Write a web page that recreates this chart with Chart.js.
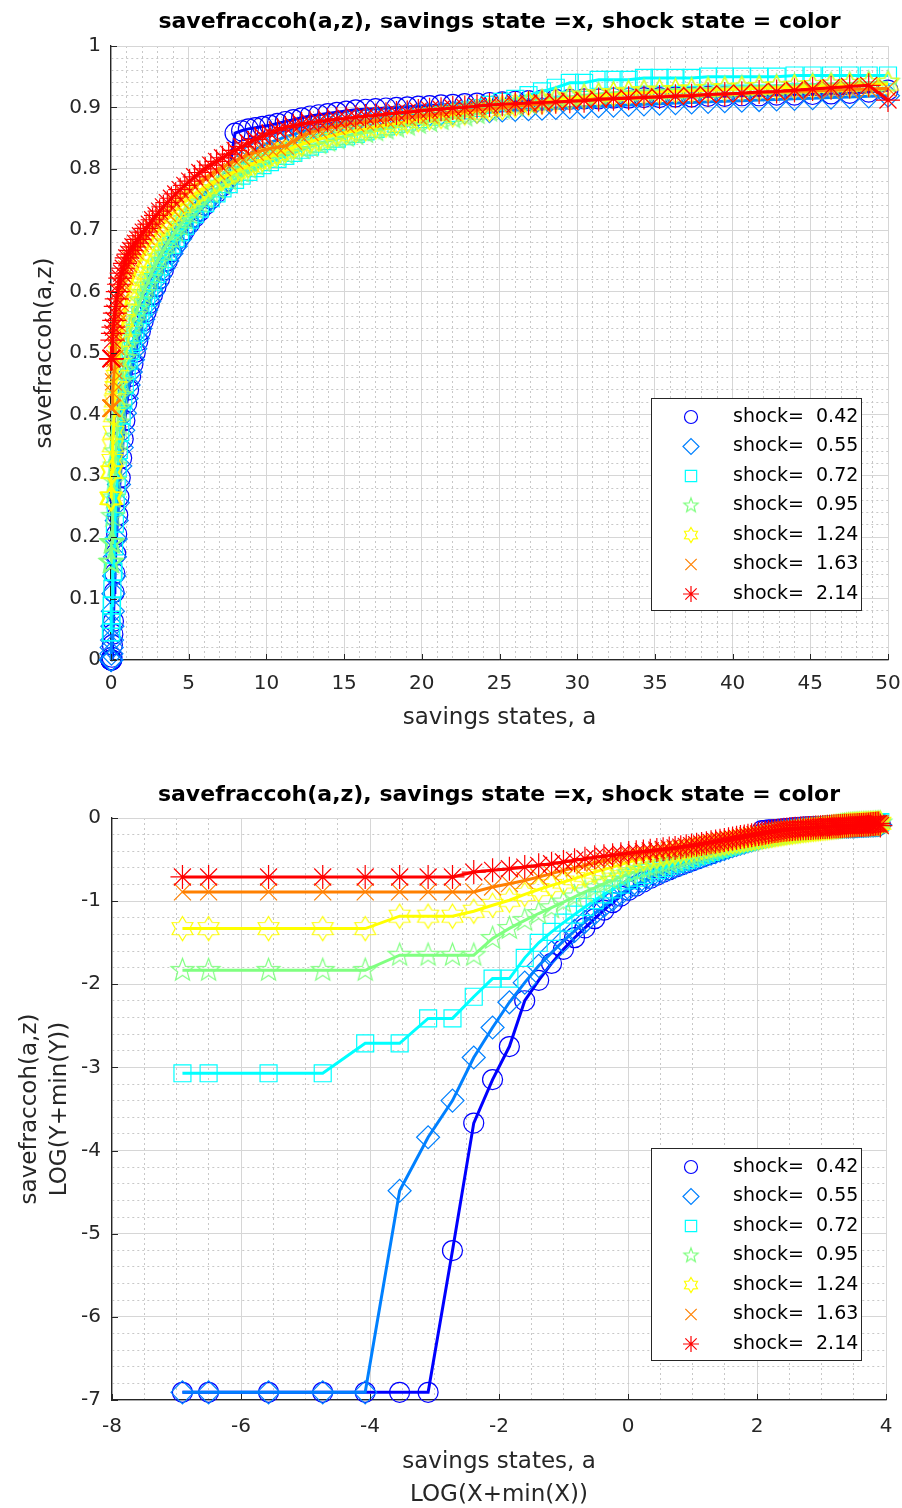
<!DOCTYPE html>
<html>
<head>
<meta charset="utf-8">
<script src="https://cdn.jsdelivr.net/npm/chart.js@4.4.1/dist/chart.umd.min.js"></script>
<style>
	html, body { margin: 0; padding: 0; background: #fff; }
	.panel { position: relative; width: 902px; height: 754px; }
</style>
</head>
<body>
<div class="panel"><canvas id="chartLevels"></canvas></div>
<div class="panel"><canvas id="chartLogs"></canvas></div>
<script>
(() => {
	'use strict'

	// Savings grid (x axis of the upper panel)
	const savingsGrid = [
		0, 0.0005, 0.0028, 0.0078, 0.016, 0.028, 0.0441, 0.0648, 0.0905, 0.1215,
		0.158, 0.2007, 0.2494, 0.3047, 0.3667, 0.4357, 0.512, 0.5958, 0.6873, 0.7868,
		0.8944, 1.0104, 1.135, 1.2685, 1.4109, 1.5625, 1.7235, 1.894, 2.0744, 2.2645,
		2.4648, 2.6753, 2.8963, 3.128, 3.3703, 3.6236, 3.888, 4.1636, 4.4507, 4.7493,
		5.0596, 5.3818, 5.716, 6.0623, 6.4209, 6.792, 7.1758, 7.5722, 7.9814, 8.4035,
		8.8388, 9.2873, 9.7493, 10.2249, 10.714, 11.2167, 11.7336, 12.265, 12.81, 13.369,
		13.943, 14.53, 15.134, 15.751, 16.384, 17.031, 17.694, 18.371, 19.065, 19.775,
		20.499, 21.238, 21.993, 22.766, 23.552, 24.356, 25.178, 26.014, 26.867, 27.735,
		28.621, 29.525, 30.443, 31.379, 32.334, 33.307, 34.295, 35.298, 36.323, 37.363,
		38.422, 39.496, 40.593, 41.706, 42.833, 43.983, 45.149, 46.335, 47.535, 48.76,
		50
	];

	// Shock states
	const shockLevels = [0.42, 0.55, 0.72, 0.95, 1.24, 1.63, 2.14];

	// savefraccoh(a,z) for each shock state
	const saveFracZ1 = [
		0, 0, 0, 0, 0, 0, 0, 0.0045, 0.0245, 0.042,
		0.063, 0.110, 0.141, 0.173, 0.205, 0.236, 0.266, 0.297, 0.329, 0.360,
		0.390, 0.418, 0.440, 0.462, 0.482, 0.501, 0.519, 0.536, 0.552, 0.567,
		0.581, 0.595, 0.608, 0.621, 0.635, 0.650, 0.665, 0.677, 0.689, 0.700,
		0.711, 0.721, 0.731, 0.741, 0.751, 0.761, 0.772, 0.790, 0.858, 0.862,
		0.865, 0.867, 0.869, 0.871, 0.874, 0.877, 0.880, 0.883, 0.886, 0.888,
		0.890, 0.892, 0.894, 0.896, 0.897, 0.898, 0.899, 0.900, 0.901, 0.902,
		0.903, 0.904, 0.905, 0.906, 0.907, 0.908, 0.909, 0.910, 0.911, 0.912,
		0.913, 0.913, 0.914, 0.914, 0.915, 0.915, 0.916, 0.916, 0.917, 0.917,
		0.918, 0.918, 0.919, 0.919, 0.920, 0.920, 0.921, 0.922, 0.923, 0.925,
		0.928
	];
	const saveFracZ2 = [
		0, 0, 0, 0, 0, 0.0103, 0.0205, 0.0324, 0.0551, 0.0795,
		0.108, 0.137, 0.168, 0.197, 0.227, 0.256, 0.286, 0.316, 0.346, 0.374,
		0.402, 0.426, 0.448, 0.469, 0.489, 0.507, 0.524, 0.540, 0.555, 0.570,
		0.584, 0.598, 0.612, 0.625, 0.638, 0.650, 0.662, 0.674, 0.686, 0.699,
		0.712, 0.723, 0.733, 0.743, 0.753, 0.763, 0.772, 0.781, 0.795, 0.810,
		0.822, 0.831, 0.838, 0.843, 0.847, 0.852, 0.856, 0.860, 0.864, 0.867,
		0.870, 0.873, 0.876, 0.878, 0.880, 0.882, 0.884, 0.886, 0.887, 0.888,
		0.889, 0.890, 0.891, 0.892, 0.893, 0.894, 0.895, 0.896, 0.897, 0.898,
		0.899, 0.900, 0.901, 0.902, 0.903, 0.904, 0.905, 0.906, 0.907, 0.908,
		0.909, 0.910, 0.911, 0.912, 0.913, 0.914, 0.915, 0.916, 0.917, 0.918,
		0.919
	];
	const saveFracZ3 = [
		0.0454, 0.0454, 0.0454, 0.0454, 0.0655, 0.0655, 0.0888, 0.0888, 0.1155, 0.144,
		0.144, 0.185, 0.222, 0.253, 0.283, 0.312, 0.342, 0.371, 0.398, 0.423,
		0.448, 0.471, 0.487, 0.503, 0.518, 0.533, 0.548, 0.562, 0.576, 0.590,
		0.603, 0.616, 0.629, 0.641, 0.653, 0.665, 0.676, 0.687, 0.697, 0.707,
		0.717, 0.726, 0.735, 0.744, 0.752, 0.760, 0.768, 0.775, 0.782, 0.789,
		0.795, 0.801, 0.806, 0.811, 0.816, 0.821, 0.826, 0.831, 0.836, 0.841,
		0.845, 0.849, 0.853, 0.857, 0.861, 0.865, 0.869, 0.873, 0.877, 0.881,
		0.885, 0.888, 0.891, 0.895, 0.899, 0.904, 0.909, 0.914, 0.920, 0.926,
		0.932, 0.940, 0.940, 0.945, 0.945, 0.945, 0.948, 0.948, 0.948, 0.948,
		0.950, 0.950, 0.950, 0.950, 0.950, 0.952, 0.952, 0.952, 0.952, 0.952,
		0.952
	];
	const saveFracZ4 = [
		0.159, 0.159, 0.159, 0.159, 0.159, 0.191, 0.191, 0.191, 0.191, 0.234,
		0.264, 0.291, 0.316, 0.339, 0.363, 0.386, 0.410, 0.431, 0.453, 0.471,
		0.491, 0.511, 0.524, 0.537, 0.549, 0.561, 0.573, 0.585, 0.597, 0.609,
		0.621, 0.633, 0.645, 0.656, 0.667, 0.678, 0.688, 0.698, 0.708, 0.718,
		0.727, 0.736, 0.745, 0.753, 0.761, 0.768, 0.775, 0.782, 0.789, 0.795,
		0.801, 0.807, 0.812, 0.817, 0.821, 0.825, 0.829, 0.833, 0.837, 0.841,
		0.845, 0.849, 0.853, 0.856, 0.859, 0.862, 0.865, 0.868, 0.871, 0.874,
		0.877, 0.880, 0.883, 0.886, 0.890, 0.894, 0.898, 0.902, 0.906, 0.910,
		0.914, 0.917, 0.920, 0.922, 0.924, 0.926, 0.927, 0.928, 0.929, 0.930,
		0.931, 0.932, 0.933, 0.934, 0.935, 0.936, 0.937, 0.938, 0.939, 0.940,
		0.941
	];
	const saveFracZ5 = [
		0.2635, 0.2635, 0.2635, 0.2635, 0.2635, 0.306, 0.306, 0.306, 0.325, 0.349,
		0.371, 0.398, 0.422, 0.444, 0.462, 0.481, 0.501, 0.521, 0.537, 0.553,
		0.570, 0.588, 0.600, 0.611, 0.621, 0.631, 0.641, 0.650, 0.659, 0.668,
		0.677, 0.686, 0.694, 0.702, 0.710, 0.718, 0.725, 0.732, 0.739, 0.746,
		0.752, 0.758, 0.764, 0.770, 0.775, 0.780, 0.785, 0.790, 0.795, 0.800,
		0.805, 0.810, 0.815, 0.820, 0.825, 0.830, 0.835, 0.840, 0.844, 0.848,
		0.852, 0.856, 0.859, 0.862, 0.865, 0.868, 0.871, 0.874, 0.877, 0.880,
		0.883, 0.885, 0.888, 0.891, 0.894, 0.897, 0.900, 0.903, 0.906, 0.909,
		0.912, 0.915, 0.917, 0.919, 0.921, 0.923, 0.924, 0.925, 0.926, 0.927,
		0.928, 0.929, 0.930, 0.931, 0.932, 0.933, 0.934, 0.935, 0.936, 0.937,
		0.938
	];
	const saveFracZ6 = [
		0.410, 0.410, 0.410, 0.410, 0.410, 0.410, 0.410, 0.410, 0.410, 0.435,
		0.453, 0.471, 0.491, 0.511, 0.532, 0.548, 0.565, 0.582, 0.598, 0.612,
		0.625, 0.637, 0.645, 0.652, 0.659, 0.666, 0.672, 0.678, 0.684, 0.690,
		0.696, 0.702, 0.708, 0.714, 0.721, 0.728, 0.735, 0.742, 0.749, 0.756,
		0.763, 0.770, 0.777, 0.784, 0.790, 0.796, 0.802, 0.808, 0.813, 0.818,
		0.823, 0.827, 0.830, 0.833, 0.835, 0.837, 0.845, 0.853, 0.859, 0.863,
		0.866, 0.869, 0.872, 0.874, 0.876, 0.878, 0.880, 0.882, 0.884, 0.886,
		0.888, 0.890, 0.892, 0.894, 0.896, 0.898, 0.900, 0.902, 0.904, 0.906,
		0.908, 0.910, 0.912, 0.914, 0.915, 0.916, 0.917, 0.918, 0.919, 0.920,
		0.921, 0.922, 0.923, 0.924, 0.925, 0.926, 0.927, 0.928, 0.929, 0.930,
		0.931
	];
	const saveFracZ7 = [
		0.491, 0.491, 0.491, 0.491, 0.491, 0.491, 0.491, 0.491, 0.521, 0.532,
		0.542, 0.553, 0.565, 0.576, 0.588, 0.600, 0.612, 0.622, 0.630, 0.638,
		0.646, 0.655, 0.661, 0.667, 0.673, 0.679, 0.685, 0.691, 0.697, 0.703,
		0.710, 0.717, 0.724, 0.731, 0.738, 0.745, 0.752, 0.759, 0.766, 0.773,
		0.780, 0.787, 0.794, 0.800, 0.806, 0.812, 0.818, 0.824, 0.830, 0.836,
		0.842, 0.848, 0.853, 0.858, 0.863, 0.867, 0.870, 0.873, 0.875, 0.877,
		0.879, 0.881, 0.882, 0.884, 0.886, 0.887, 0.889, 0.891, 0.892, 0.894,
		0.896, 0.897, 0.899, 0.900, 0.902, 0.904, 0.905, 0.906, 0.907, 0.908,
		0.909, 0.910, 0.911, 0.913, 0.914, 0.915, 0.916, 0.917, 0.918, 0.919,
		0.921, 0.922, 0.923, 0.925, 0.926, 0.928, 0.930, 0.932, 0.934, 0.936,
		0.912
	];

	const allSaveFrac = [saveFracZ1, saveFracZ2, saveFracZ3, saveFracZ4, saveFracZ5, saveFracZ6, saveFracZ7];

	// lower panel shows LOG(X+min) and LOG(Y+min), with this small shift
	const logShift = 0.001;

	const titleText = 'savefraccoh(a,z), savings state =x, shock state = color';
	const fontFamily = '"DejaVu Sans", "Liberation Sans", sans-serif';
	const axisColor = '#262626';
	const majorGridColor = '#d6d6d6';
	const minorGridColor = '#c8c8c8';
	const shockColors = ['#0000ff', '#0080ff', '#00ffff', '#80ff80', '#ffff00', '#ff8000', '#ff0000'];

	// Helper: outline star markers (pentagram / hexagram) as small canvases
	function starCanvas(color, size, points, inner, lineWidth) {
		const c = document.createElement('canvas');
		const dim = Math.ceil(size + lineWidth * 2 + 2);
		c.width = dim;
		c.height = dim;
		const g = c.getContext('2d');
		const r = size / 2;
		g.beginPath();
		for (let k = 0; k < points * 2; k++) {
			const rad = (k % 2 === 0) ? r : r * inner;
			const ang = -Math.PI / 2 + k * Math.PI / points;
			const px = dim / 2 + rad * Math.cos(ang);
			const py = dim / 2 + rad * Math.sin(ang);
			if (k === 0) g.moveTo(px, py); else g.lineTo(px, py);
		}
		g.closePath();
		g.strokeStyle = color;
		g.lineWidth = lineWidth;
		g.stroke();
		return c;
	}

	const plotStyles = ['circle', 'rectRot', 'rect',
		starCanvas(shockColors[3], 24, 5, 0.42, 1.2),
		starCanvas(shockColors[4], 24, 6, 0.6, 1.2),
		'crossRot', 'star'];
	const plotRadii = [10, 11.5, 12, 12, 12, 12, 12];
	const legendStyles = ['circle', 'rectRot', 'rect',
		starCanvas(shockColors[3], 15, 5, 0.42, 1.2),
		starCanvas(shockColors[4], 15, 6, 0.6, 1.2),
		'crossRot', 'star'];
	const legendRadii = [6.5, 8, 8, 6, 6, 8, 8];

	function isMajor(v, step) {
		return Math.abs(v / step - Math.round(v / step)) < 1e-3;
	}

	function makeDatasets(xFn, yFn) {
		return allSaveFrac.map((ys, k) => ({
			label: 'shock=  ' + shockLevels[k].toFixed(2),
			data: savingsGrid.map((a, i) => ({ x: xFn(a), y: yFn(ys[i]) })),
			borderColor: shockColors[k],
			backgroundColor: 'rgba(0,0,0,0)',
			pointBackgroundColor: 'rgba(0,0,0,0)',
			pointBorderColor: shockColors[k],
			pointBorderWidth: 1.2,
			pointStyle: plotStyles[k],
			pointRadius: plotRadii[k],
			borderWidth: 3,
			tension: 0,
			clip: false,
			order: allSaveFrac.length - 1 - k
		}));
	}

	// Title centred over the plot area (not the whole canvas)
	const plotTitle = {
		id: 'plotTitle',
		afterDraw(chart, args, opts) {
			const { ctx, chartArea } = chart;
			ctx.save();
			ctx.fillStyle = '#000000';
			ctx.font = 'bold 22px ' + fontFamily;
			ctx.textAlign = 'center';
			ctx.textBaseline = 'middle';
			ctx.fillText(opts.text, (chartArea.left + chartArea.right) / 2, opts.y);
			ctx.restore();
		}
	};

	// Legend box drawn inside the plot area, like the original figure
	const boxLegend = {
		id: 'boxLegend',
		afterDatasetsDraw(chart, args, opts) {
			const { ctx, chartArea } = chart;
			const x0 = Math.round(chartArea.right - opts.right - opts.width);
			const y0 = Math.round(chartArea.bottom - opts.bottom - opts.height);
			ctx.save();
			ctx.fillStyle = '#ffffff';
			ctx.fillRect(x0, y0, opts.width, opts.height);
			ctx.strokeStyle = axisColor;
			ctx.lineWidth = 1;
			ctx.strokeRect(x0 + 0.5, y0 + 0.5, opts.width, opts.height);
			chart.data.datasets.forEach((ds, k) => {
				const cy = y0 + opts.firstRow + k * opts.rowGap;
				ctx.strokeStyle = ds.pointBorderColor;
				ctx.fillStyle = 'rgba(0,0,0,0)';
				ctx.lineWidth = 1.2;
				Chart.helpers.drawPoint(ctx, {
					pointStyle: legendStyles[k], radius: legendRadii[k], rotation: 0, borderWidth: 1.2
				}, x0 + opts.markX, cy);
				ctx.fillStyle = '#000000';
				ctx.font = '19px ' + fontFamily;
				ctx.textAlign = 'left';
				ctx.textBaseline = 'middle';
				ctx.fillText(ds.label, x0 + opts.textX, cy);
			});
			ctx.restore();
		}
	};

	// Tick marks pointing into the plot (left and bottom axes)
	const innerTicks = {
		id: 'innerTicks',
		afterDraw(chart, args, opts) {
			const { ctx, chartArea, scales } = chart;
			ctx.save();
			ctx.strokeStyle = axisColor;
			ctx.lineWidth = 1;
			ctx.beginPath();
			scales.x.ticks.forEach(t => {
				if (!isMajor(t.value, opts.xStep)) return;
				const px = Math.round(scales.x.getPixelForValue(t.value)) + 0.5;
				ctx.moveTo(px, chartArea.bottom);
				ctx.lineTo(px, chartArea.bottom - opts.len);
			});
			scales.y.ticks.forEach(t => {
				if (!isMajor(t.value, opts.yStep)) return;
				const py = Math.round(scales.y.getPixelForValue(t.value)) + 0.5;
				ctx.moveTo(chartArea.left, py);
				ctx.lineTo(chartArea.left + opts.len, py);
			});
			ctx.stroke();
			ctx.restore();
		}
	};

	function gridFor(step) {
		return {
			color: c => (c.tick && isMajor(c.tick.value, step)) ? majorGridColor : minorGridColor,
			lineWidth: 1,
			drawTicks: false
		};
	}

	function borderFor(step) {
		return {
			display: true,
			color: axisColor,
			width: 1.3,
			dash: c => (c.tick && !isMajor(c.tick.value, step)) ? [2, 3] : []
		};
	}

	function axis(opts) {
		return {
			type: 'linear',
			min: opts.min,
			max: opts.max,
			ticks: {
				stepSize: opts.minor,
				autoSkip: false,
				maxRotation: 0,
				minRotation: 0,
				padding: opts.tickPad,
				color: axisColor,
				font: { family: fontFamily, size: 20 },
				callback: v => isMajor(v, opts.major) ? String(+(v).toFixed(opts.digits)) : ''
			},
			grid: gridFor(opts.major),
			border: borderFor(opts.major),
			title: {
				display: true,
				text: opts.title,
				color: axisColor,
				font: { family: fontFamily, size: 23, lineHeight: opts.titleLh },
				padding: opts.titlePad
			},
			afterFit: opts.fit
		};
	}

	function makeConfig(datasets, xAxis, yAxis, topPad, titleY, legendPos, tickSteps) {
		return {
			type: 'line',
			data: { datasets: datasets },
			options: {
				responsive: true,
				maintainAspectRatio: false,
				animation: false,
				events: [],
				layout: { padding: { left: 0, right: 0, top: topPad, bottom: 0 } },
				plugins: {
					legend: { display: false },
					tooltip: { enabled: false },
					title: { display: false },
					plotTitle: { text: titleText, y: titleY },
					boxLegend: legendPos,
					innerTicks: tickSteps
				},
				scales: { x: xAxis, y: yAxis }
			},
			plugins: [boxLegend, innerTicks, plotTitle]
		};
	}

	/******************** Upper panel: levels ********************/
	const chartLevels = document.getElementById('chartLevels');
	if (chartLevels) {
		const levelSets = makeDatasets(a => a, v => v);
		const xLevels = axis({
			min: 0, max: 50, minor: 1, major: 5, digits: 0, tickPad: 12,
			title: 'savings states, a', titleLh: 1.2, titlePad: { top: 0, bottom: 22 },
			fit: s => { s.height = 94; s.paddingRight = 14; s.paddingLeft = 0; }
		});
		const yLevels = axis({
			min: 0, max: 1, minor: 0.02, major: 0.1, digits: 1, tickPad: 10,
			title: 'savefraccoh(a,z)', titleLh: 1.2, titlePad: { top: 31, bottom: 0 },
			fit: s => { s.width = 111; }
		});
		new Chart(chartLevels, makeConfig(levelSets, xLevels, yLevels, 46, 22,
			{ right: 27, bottom: 50, width: 210, height: 212, firstRow: 19, rowGap: 29.5, markX: 40, textX: 82 },
			{ xStep: 5, yStep: 0.1, len: 6 }));
	}

	/******************** Lower panel: logs ********************/
	const chartLogs = document.getElementById('chartLogs');
	if (chartLogs) {
		const logSets = makeDatasets(a => Math.log(a + logShift), v => Math.log(v + logShift));
		const xLogs = axis({
			min: -8, max: 4, minor: 0.5, major: 2, digits: 0, tickPad: 15,
			title: ['savings states, a', 'LOG(X+min(X))'], titleLh: 1.43, titlePad: { top: 0, bottom: -3 },
			fit: s => { s.height = 108; s.paddingRight = 16; s.paddingLeft = 0; }
		});
		const yLogs = axis({
			min: -7, max: 0, minor: 0.2, major: 1, digits: 0, tickPad: 11,
			title: ['savefraccoh(a,z)', 'LOG(Y+min(Y))'], titleLh: 1.3, titlePad: { top: 15, bottom: 0 },
			fit: s => { s.width = 112; }
		});
		new Chart(chartLogs, makeConfig(logSets, xLogs, yLogs, 64, 41,
			{ right: 25, bottom: 40, width: 210, height: 212, firstRow: 19, rowGap: 29.5, markX: 40, textX: 82 },
			{ xStep: 2, yStep: 1, len: 6 }));
	}
})()
</script>
</body>
</html>
